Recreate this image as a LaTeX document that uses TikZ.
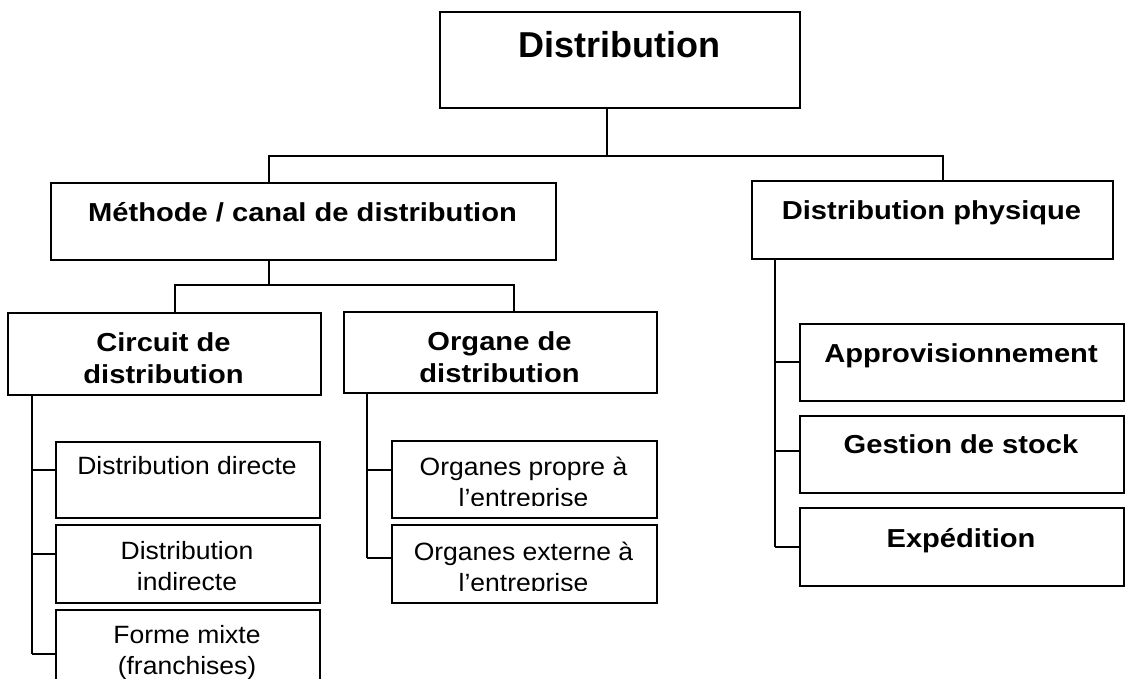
\documentclass[tikz,border=0pt]{standalone}
\usepackage{fontspec}
\setmainfont{Liberation Sans}
\newfontfamily\boldlbl[FakeStretch=1.12]{Liberation Sans}
\newfontfamily\plainlbl[FakeStretch=1.06]{Liberation Sans}
\begin{document}
\begin{tikzpicture}[x=1pt,y=-1pt,
  box/.style={draw, line width=1.6pt, rectangle, inner sep=0pt, anchor=north west},
  lbl/.style={font=\plainlbl\fontsize{25}{31}\selectfont, align=center, inner sep=0pt, anchor=base},
  lblb/.style={lbl, font=\boldlbl\fontsize{26}{32}\selectfont\bfseries},
  link/.style={line width=1.1pt}]
\useasboundingbox (0,0) rectangle (1125,678);
\clip (0,0) rectangle (1125,678);
\fill[white] (0,0) rectangle (1125,678);

% boxes
\node[box, minimum width=360, minimum height=96] (dist) at (439,11) {};
\node[box, minimum width=505, minimum height=77] (meth) at (50,182) {};
\node[box, minimum width=361, minimum height=78] (phys) at (751,180) {};
\node[box, minimum width=313, minimum height=82] (circ) at (7,312) {};
\node[box, minimum width=313, minimum height=81] (org) at (343,311) {};
\node[box, minimum width=264, minimum height=76] (dd) at (55,441) {};
\node[box, minimum width=264, minimum height=78] (di) at (55,524) {};
\node[box, minimum width=264, minimum height=77] (fm) at (55,609) {};
\node[box, minimum width=265, minimum height=77] (op) at (391,440) {};
\node[box, minimum width=265, minimum height=78] (oe) at (391,524) {};
\node[box, minimum width=324, minimum height=77] (ap) at (799,323) {};
\node[box, minimum width=324, minimum height=77] (gs) at (799,415) {};
\node[box, minimum width=324, minimum height=78] (ex) at (799,507) {};

% labels (multi-line labels are placed by the baseline of their last line)
\node[lbl, font=\fontsize{36}{40}\selectfont\bfseries] (dist-t) at (619,57) {Distribution};
\node[lblb] (meth-t) at (302.5,221) {Méthode / canal de distribution};
\node[lblb] (phys-t) at (931.5,219) {Distribution physique};
\node[lblb] (circ-t) at (163.5,383) {Circuit de\\distribution};
\node[lblb] (org-t) at (499.5,382) {Organe de\\distribution};
\node[lbl] (dd-t) at (187,474) {Distribution directe};
\node[lbl] (di-t) at (187,590) {Distribution\\indirecte};
\node[lbl] (fm-t) at (187,674) {Forme mixte\\(franchises)};
\begin{scope}
  \clip (391,440) rectangle (656,505);
  \node[lbl] (op-t) at (523.5,506) {Organes propre à\\l’entreprise};
\end{scope}
\begin{scope}
  \clip (391,524) rectangle (656,590);
  \node[lbl] (oe-t) at (523.5,591) {Organes externe à\\l’entreprise};
\end{scope}
\node[lblb] (ap-t) at (961,362) {Approvisionnement};
\node[lblb] (gs-t) at (961,453) {Gestion de stock};
\node[lblb] (ex-t) at (961,547) {Expédition};

% junction points
\coordinate (j0) at (607,156);
\coordinate (jm) at (269,156);
\coordinate (jp) at (943,156);
\coordinate (k0) at (269,285);
\coordinate (kc) at (175,285);
\coordinate (ko) at (514,285);
\coordinate (c1) at (32,470);
\coordinate (c2) at (32,554);
\coordinate (c3) at (32,654);
\coordinate (o1) at (367,470);
\coordinate (o2) at (367,558);
\coordinate (p1) at (775,362);
\coordinate (p2) at (775,451);
\coordinate (p3) at (775,547);

% first level
\draw[link] (dist.south -| j0) -- (j0);
\draw[link] (meth.north -| jm) -- (jm) -- (jp) -- (phys.north -| jp);

% method / channel
\draw[link] (meth.south -| k0) -- (k0);
\draw[link] (circ.north -| kc) -- (kc) -- (ko) -- (org.north -| ko);

% circuit branches
\draw[link] (circ.south -| c1) -- (c3);
\draw[link] (c1) -- (c1 -| dd.west);
\draw[link] (c2) -- (c2 -| di.west);
\draw[link] (c3) -- (c3 -| fm.west);

% organ branches
\draw[link] (org.south -| o1) -- (o2);
\draw[link] (o1) -- (o1 -| op.west);
\draw[link] (o2) -- (o2 -| oe.west);

% physical distribution branches
\draw[link] (phys.south -| p1) -- (p3);
\draw[link] (p1) -- (p1 -| ap.west);
\draw[link] (p2) -- (p2 -| gs.west);
\draw[link] (p3) -- (p3 -| ex.west);
\end{tikzpicture}
\end{document}
